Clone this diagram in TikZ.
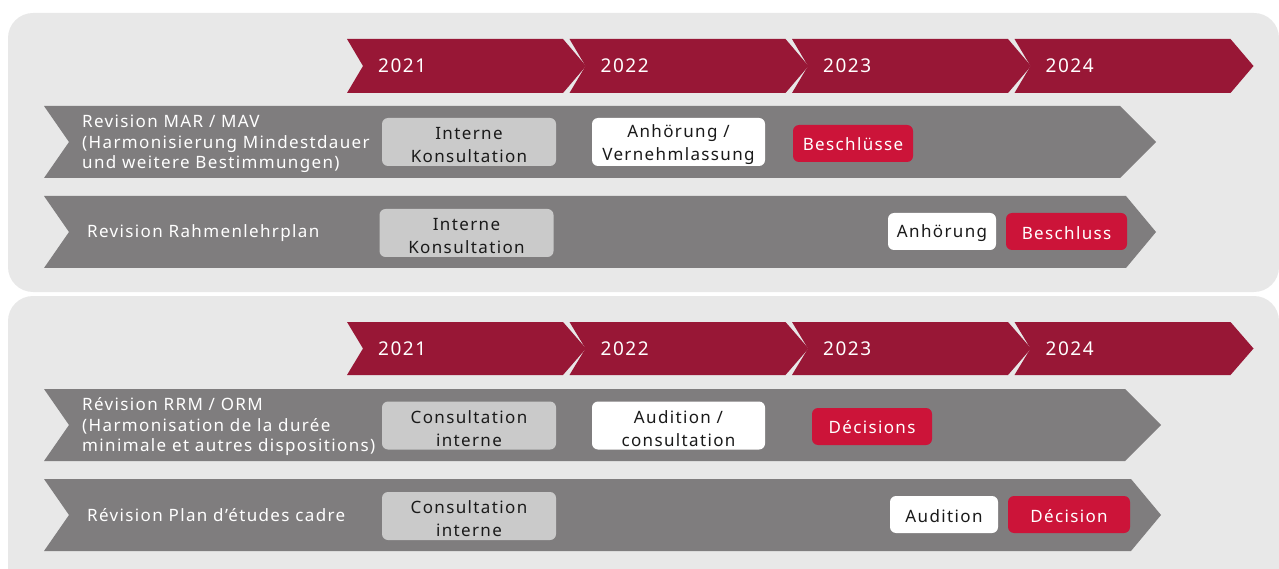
\documentclass[tikz,border=0pt]{standalone}
\usepackage{fontspec}
\setmainfont{Noto Sans}[LetterSpace=8]
\definecolor{panel}{HTML}{E8E8E8}
\definecolor{yearred}{HTML}{981736}
\definecolor{bar}{HTML}{7F7D7E}
\definecolor{boxred}{HTML}{CC1439}
\definecolor{boxgray}{HTML}{CACACA}
\definecolor{ink}{HTML}{1A1A1A}
\begin{document}
\begin{tikzpicture}[x=1pt,y=-1pt,
  lbl/.style={text=white, font=\fontsize{17}{20.5}\selectfont, align=left, anchor=west, inner sep=0pt},
  yearlbl/.style={text=white, font=\fontsize{19}{20}\selectfont, anchor=west, inner sep=0pt},
  stage/.style={rounded corners=6pt, inner sep=0pt},
  btext/.style={align=center, font=\fontsize{17}{23}\selectfont, inner sep=0pt},
  dark/.style={btext, text=ink},
  light/.style={btext, text=white},
  graybox/.style={stage, fill=boxgray, minimum width=174pt, minimum height=48pt},
  whitebox/.style={stage, fill=white},
  redbox/.style={stage, fill=boxred, minimum height=37pt}]
\useasboundingbox (0,0) rectangle (1279,569);
\clip (0,0) rectangle (1279,569);
% panels
\fill[panel, rounded corners=25pt] (8,13) rectangle (1279,292);
\fill[panel, rounded corners=25pt] (8,296) rectangle (1279,620);
% year chevrons
\foreach \yt/\yb/\sfx in {39/93/a, 322/375/b}{
  \foreach \x [count=\i] in {347,569.5,792,1014.5}{
    \pgfmathsetmacro{\ym}{(\yt+\yb)/2}
    \fill[yearred] (\x,\yt) -- (\x+216,\yt) -- (\x+239,\ym) -- (\x+216,\yb) -- (\x,\yb) -- (\x+16,\ym) -- cycle;
    \pgfmathtruncatemacro{\yr}{2020+\i}
    \node[yearlbl] (y\yr\sfx) at (\x+31,\ym) {\yr};
  }
}
% gray bars
\foreach \yt/\yb/\xr/\xt in {106/178/1120/1156, 196/268/1126/1156, 389/461/1125/1161, 479/551/1131/1161}{
  \pgfmathsetmacro{\ym}{(\yt+\yb)/2}
  \fill[bar] (44,\yt) -- (\xr,\yt) -- (\xt,\ym) -- (\xr,\yb) -- (44,\yb) -- (69,\ym) -- cycle;
}
% row labels
\node[lbl] (r1) at (82,144) {Revision MAR / MAV\\(Harmonisierung Mindestdauer\\und weitere Bestimmungen)};
\node[lbl] (r2) at (87,233) {Revision Rahmenlehrplan};
\node[lbl] (r3) at (82,427) {Révision RRM / ORM\\(Harmonisation de la durée\\minimale et autres dispositions)};
\node[lbl] (r4) at (87,515) {Révision Plan d’études cadre};
% stage boxes, German
\node[graybox] (b1) at (469,142) {};
\node[dark] (t1) at ([yshift=-3pt]b1.center) {Interne\\Konsultation};
\node[whitebox, minimum width=173pt, minimum height=48pt] (b2) at (678.5,142) {};
\node[dark] (t2) at ([yshift=-3pt]b2.center) {Anhörung /\\Vernehmlassung};
\node[redbox, minimum width=120pt] (b3) at (853,143.5) {};
\node[light] (t3) at ([yshift=-1pt]b3.center) {Beschlüsse};
\node[graybox] (b4) at (466.5,233) {};
\node[dark] (t4) at ([yshift=-3pt]b4.center) {Interne\\Konsultation};
\node[whitebox, minimum width=108pt, minimum height=37pt] (b5) at (942,231.5) {};
\node[dark] (t5) at ([yshift=-2pt]b5.center) {Anhörung};
\node[redbox, minimum width=121pt] (b6) at (1066.5,231.5) {};
\node[light] (t6) at ([yshift=-1.5pt]b6.center) {Beschluss};
% stage boxes, French
\node[graybox] (b7) at (469,425.5) {};
\node[dark] (t7) at ([yshift=-3pt]b7.center) {Consultation\\interne};
\node[whitebox, minimum width=173pt, minimum height=48pt] (b8) at (678.5,425.5) {};
\node[dark] (t8) at ([yshift=-3pt]b8.center) {Audition /\\consultation};
\node[redbox, minimum width=120pt] (b9) at (872,426.5) {};
\node[light] (t9) at ([yshift=-1pt]b9.center) {Décisions};
\node[graybox] (b10) at (469,516) {};
\node[dark] (t10) at ([yshift=-3pt]b10.center) {Consultation\\interne};
\node[whitebox, minimum width=108pt, minimum height=37pt] (b11) at (944,514.5) {};
\node[dark] (t11) at ([yshift=-2pt]b11.center) {Audition};
\node[redbox, minimum width=122pt] (b12) at (1069,514.5) {};
\node[light] (t12) at ([yshift=-2pt]b12.center) {Décision};
\end{tikzpicture}
\end{document}
